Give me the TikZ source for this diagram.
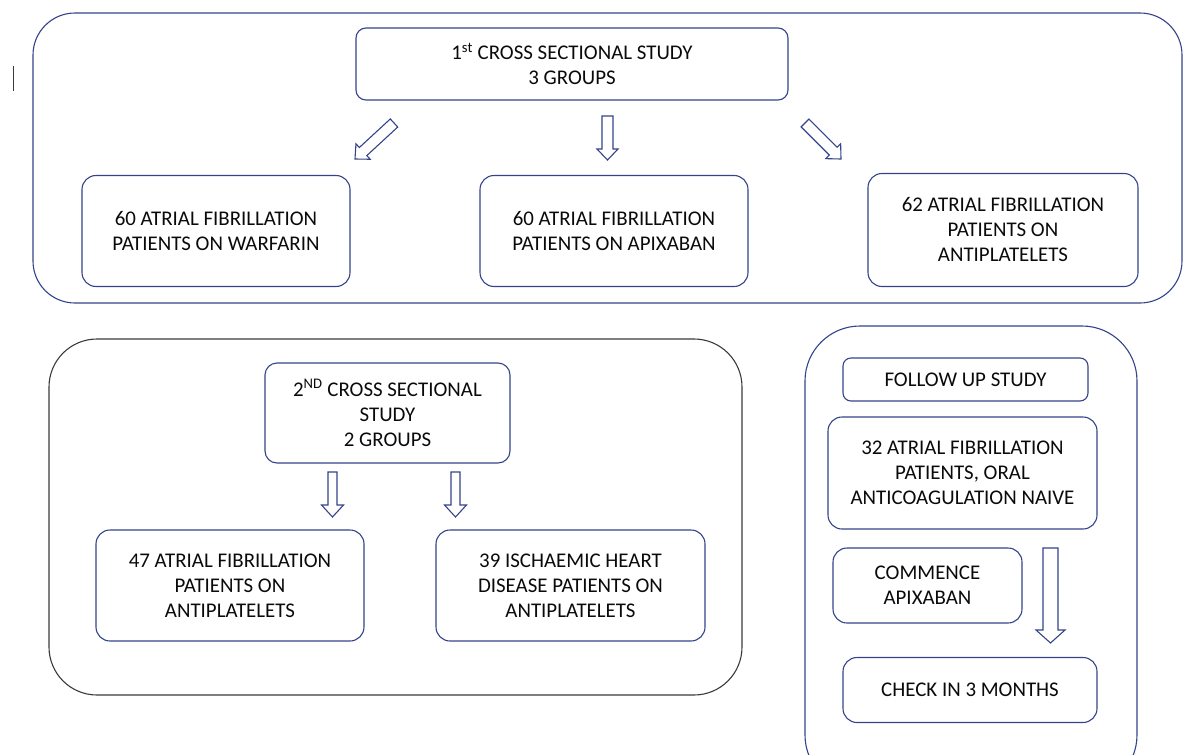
\documentclass[tikz,border=0pt]{standalone}
\usepackage{fontspec}
\setmainfont{Carlito}
\usetikzlibrary{calc}
\definecolor{boxblue}{HTML}{34438A}
\definecolor{groupgray}{HTML}{3A3A3A}
\definecolor{inktext}{HTML}{0A0A0A}
\tikzset{
  box/.style={draw=boxblue, line width=1.1pt, rounded corners=14pt, align=center,
    text=inktext, font=\fontsize{20.9}{25}\selectfont, inner sep=0pt},
  arrowline/.style={draw=boxblue, line width=1.1pt, line join=miter},
  groupline/.style={line width=1.1pt},
}
% hollow block arrow: shaft half-width, head half-width, head length, tail, tip
\newcommand{\blockarrow}[5]{%
  \coordinate (ba-base) at ($(#5)!#3!(#4)$);
  \draw[arrowline] ($(#4)!#1!90:(#5)$) -- ($(ba-base)!#1!90:(#5)$) -- ($(ba-base)!#2!90:(#5)$) -- (#5)
    -- ($(ba-base)!#2!-90:(#5)$) -- ($(ba-base)!#1!-90:(#5)$) -- ($(#4)!#1!-90:(#5)$) -- cycle;
}
\begin{document}
\begin{tikzpicture}[x=1pt,y=-1pt]
  \useasboundingbox (0,0) rectangle (1184,755);
  \clip (0,0) rectangle (1184,755);
  \draw[groupgray, line width=0.8pt] (13,66) -- (13,91);

  % 1st cross sectional study
  \draw[groupline, draw=boxblue, rounded corners=42pt] (33,13) rectangle (1182,303);
  \node[box, minimum width=432, minimum height=72, rounded corners=10pt] (study1) at (572,64)
    {1\textsuperscript{st} CROSS SECTIONAL STUDY\\3 GROUPS};
  \node[box, minimum width=268, minimum height=111] (warf) at (216,231)
    {60 ATRIAL FIBRILLATION\\PATIENTS ON WARFARIN};
  \node[box, minimum width=268, minimum height=111] (apix) at (614,231)
    {60 ATRIAL FIBRILLATION\\PATIENTS ON APIXABAN};
  \node[box, minimum width=270, minimum height=113] (anti1) at (1003,230)
    {62 ATRIAL FIBRILLATION\\PATIENTS ON\\ANTIPLATELETS};
  \coordinate (s1l) at (394,123); \coordinate (s1lt) at (355,159);
  \coordinate (s1c) at (607.5,116); \coordinate (s1ct) at (607.5,160);
  \coordinate (s1r) at (805,123); \coordinate (s1rt) at (841,159);
  \blockarrow{5.5pt}{10.5pt}{11pt}{s1l}{s1lt}
  \blockarrow{5.5pt}{10.5pt}{11pt}{s1c}{s1ct}
  \blockarrow{5.5pt}{10.5pt}{11pt}{s1r}{s1rt}

  % 2nd cross sectional study
  \draw[groupline, draw=groupgray, rounded corners=48pt] (49,339) rectangle (742,695);
  \node[box, minimum width=245, minimum height=100, rounded corners=12pt] (study2) at (387.5,413)
    {2\textsuperscript{ND} CROSS SECTIONAL\\STUDY\\2 GROUPS};
  \node[box, minimum width=268, minimum height=111] (af47) at (230,585.5)
    {47 ATRIAL FIBRILLATION\\PATIENTS ON\\ANTIPLATELETS};
  \node[box, minimum width=269, minimum height=111] (ihd39) at (570.5,585.5)
    {39 ISCHAEMIC HEART\\DISEASE PATIENTS ON\\ANTIPLATELETS};
  \coordinate (s2l) at (332.5,472); \coordinate (s2lt) at (332.5,517);
  \coordinate (s2r) at (455.5,472); \coordinate (s2rt) at (455.5,517);
  \blockarrow{4.5pt}{11pt}{12pt}{s2l}{s2lt}
  \blockarrow{4.5pt}{11pt}{12pt}{s2r}{s2rt}

  % follow up study
  \draw[groupline, draw=boxblue, rounded corners=55pt] (805,326) rectangle (1137,790);
  \node[box, minimum width=245, minimum height=43, rounded corners=8pt] (follow) at (965.5,379.5)
    {FOLLOW UP STUDY};
  \node[box, minimum width=269, minimum height=112] (af32) at (962.5,473)
    {32 ATRIAL FIBRILLATION\\PATIENTS, ORAL\\ANTICOAGULATION NAIVE};
  \node[box, minimum width=189, minimum height=75] (commence) at (927.5,585.5)
    {COMMENCE\\APIXABAN};
  \node[box, minimum width=254, minimum height=65] (check) at (970,690)
    {CHECK IN 3 MONTHS};
  \coordinate (fu) at (1050.5,548); \coordinate (fut) at (1050.5,643);
  \blockarrow{7.5pt}{14.5pt}{13pt}{fu}{fut}
\end{tikzpicture}
\end{document}
